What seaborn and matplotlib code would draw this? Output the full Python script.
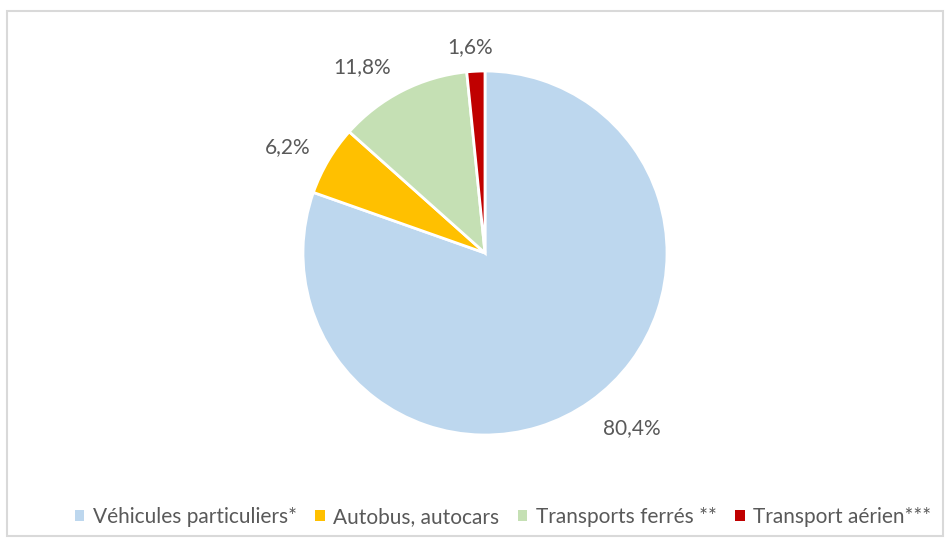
import matplotlib
matplotlib.use("Agg")
import matplotlib.pyplot as plt
import seaborn as sns
import numpy as np
from matplotlib.patches import Rectangle

categories = ["Véhicules particuliers*", "Autobus, autocars", "Transports ferrés **", "Transport aérien***"]
values = [80.4, 6.2, 11.8, 1.6]
labels = ["80,4%", "6,2%", "11,8%", "1,6%"]
colors = ["#BDD7EE", "#FFC000", "#C5E0B4", "#C00000"]

sns.set_theme(style="white")
plt.rcParams['font.family'] = ['Lato', 'DejaVu Sans']
text_color = "#595959"

fig = plt.figure(figsize=(9.47, 5.42), dpi=100)
fig.patch.set_facecolor("white")
# chart border
fig.add_artist(Rectangle((7/947, 6/542), 936/947, 525/542, transform=fig.transFigure,
                         fill=False, edgecolor="#D9D9D9", linewidth=1.5))

cx, cy, r = 485, 253, 182
ax = fig.add_axes([(cx - r)/947, (542 - cy - r)/542, 2*r/947, 2*r/542])
wedges, _ = ax.pie(values, colors=colors, startangle=90, counterclock=False,
                   radius=1.0, wedgeprops=dict(edgecolor="white", linewidth=2))
ax.set_xlim(-1, 1)
ax.set_ylim(-1, 1)
ax.set_aspect("equal")
ax.axis("off")

dists = [1.256, 1.23, 1.225, 1.135]
ang_off = [4.7, 2.5, 6.5, 1.3]
for w, lab, d, o in zip(wedges, labels, dists, ang_off):
    ang = np.deg2rad((w.theta1 + w.theta2) / 2 + o)
    ax.text(d*np.cos(ang), d*np.sin(ang), lab, ha="center", va="center",
            fontsize=15, color=text_color, clip_on=False)

handles = [Rectangle((0, 0), 1, 1, facecolor=c, edgecolor="none") for c in colors]
fig.legend(handles, categories, loc="center", bbox_to_anchor=(503/947, 1 - 517/542),
           ncol=4, frameon=False, fontsize=15, labelcolor=text_color,
           handlelength=0.45, handleheight=0.45, handletextpad=0.4, columnspacing=0.9)

fig.savefig("out.png", dpi=100, facecolor="white")
